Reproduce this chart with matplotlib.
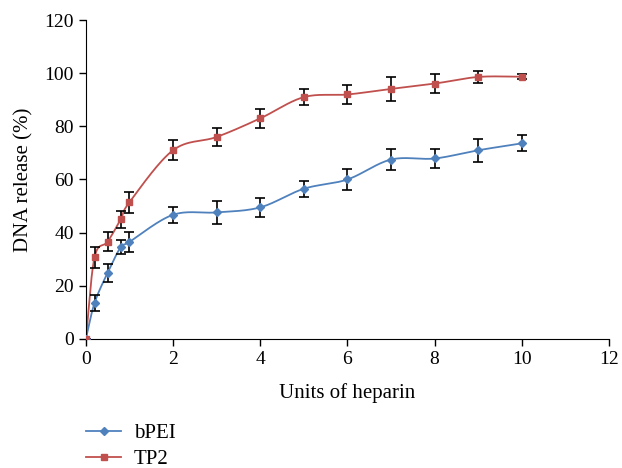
import numpy as np
import matplotlib
matplotlib.use("Agg")
import matplotlib.pyplot as plt
from matplotlib.lines import Line2D

# --- Data ---
heparin = [0, 0.2, 0.5, 0.8, 1, 2, 3, 4, 5, 6, 7, 8, 9, 10]
bpei = [0, 13.5, 24.9, 34.5, 36.5, 46.7, 47.6, 49.5, 56.5, 60, 67.5, 67.9, 71, 73.6]
bpei_err = [0, 3.1, 3.4, 2.7, 3.7, 3.1, 4.4, 3.5, 3, 4, 4, 3.7, 4.4, 3]
tp2 = [0, 30.7, 36.6, 45, 51.4, 71, 76, 83, 91, 92, 94.1, 96.1, 98.6, 98.7]
tp2_err = [0, 3.9, 3.5, 3.3, 4, 3.8, 3.5, 3.5, 3, 3.5, 4.5, 3.6, 2.3, 1]

BLUE = "#4F81BD"
RED = "#C0504D"

plt.rcParams['font.family'] = ['Liberation Serif', 'DejaVu Serif']


def smooth(x, y, n=30):
    """Catmull-Rom curve through the points, like Excel's smoothed line."""
    x = np.asarray(x, float)
    y = np.asarray(y, float)
    px = np.concatenate([[2 * x[0] - x[1]], x, [2 * x[-1] - x[-2]]])
    py = np.concatenate([[2 * y[0] - y[1]], y, [2 * y[-1] - y[-2]]])
    t = np.linspace(0, 1, n)
    xs, ys = [], []
    for i in range(1, len(px) - 2):
        for p, out in ((px, xs), (py, ys)):
            p0, p1, p2, p3 = p[i - 1], p[i], p[i + 1], p[i + 2]
            out.extend(0.5 * (2 * p1 + (-p0 + p2) * t
                              + (2 * p0 - 5 * p1 + 4 * p2 - p3) * t ** 2
                              + (-p0 + 3 * p1 - 3 * p2 + p3) * t ** 3))
    return np.array(xs), np.array(ys)


fig = plt.figure(figsize=(6.22, 4.68), dpi=100)
ax = fig.add_axes([0.138, 0.276, 0.841, 0.681])

for y, err, col, mk in ((bpei, bpei_err, BLUE, 'D'), (tp2, tp2_err, RED, 's')):
    sx, sy = smooth(heparin, y)
    ax.plot(sx, sy, color=col, lw=1.3, zorder=2)
    ax.errorbar(heparin, y, yerr=err, fmt='none', ecolor='black',
                elinewidth=1.2, capsize=3.5, capthick=1.2, zorder=3)
    ax.plot(heparin, y, ls='none', marker=mk, ms=4.5, color=col, zorder=4)

ax.set_xlim(0, 12)
ax.set_ylim(0, 120)
ax.set_xticks(range(0, 13, 2))
ax.set_yticks(range(0, 121, 20))
ax.spines['top'].set_visible(False)
ax.spines['right'].set_visible(False)
ax.tick_params(labelsize=14, direction='out', length=5, width=1)
ax.set_xlabel("Units of heparin", fontsize=15, labelpad=11)
ax.set_ylabel("DNA release (%)", fontsize=15, labelpad=8)

handles = [Line2D([], [], color=BLUE, marker='D', ms=4.5, lw=1.3),
           Line2D([], [], color=RED, marker='s', ms=4.5, lw=1.3)]
fig.legend(handles, ["bPEI", "TP2"], loc='upper left',
           bbox_to_anchor=(86 / 622, 0.095), frameon=False, fontsize=15,
           handlelength=1.7, handletextpad=0.6, labelspacing=0.3,
           borderpad=0, borderaxespad=0)

fig.savefig("out.png", dpi=100)
